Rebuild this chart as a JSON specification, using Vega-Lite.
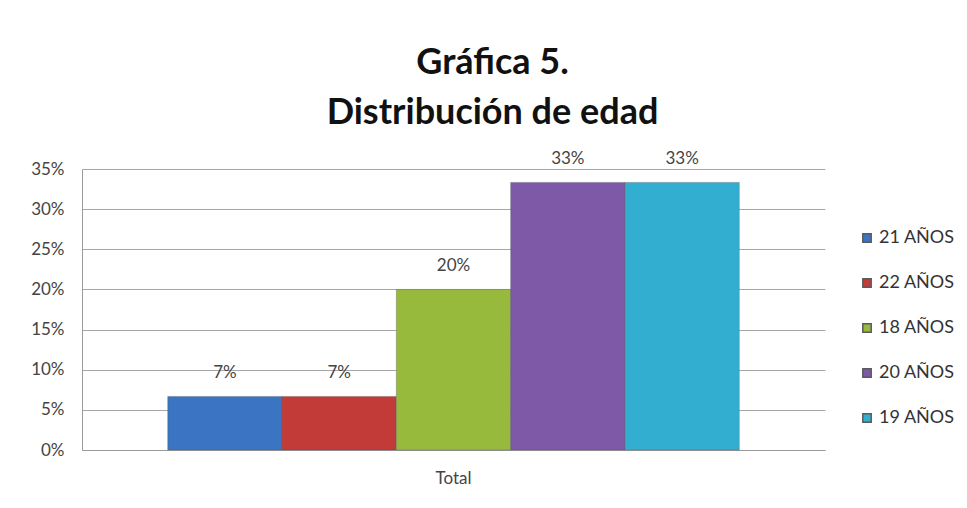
{
  "$schema": "https://vega.github.io/schema/vega-lite/v6.json",
  "width": 743,
  "height": 281,
  "autosize": {"type": "none"},
  "padding": {"left": 82, "top": 169, "right": 142, "bottom": 58},
  "background": "white",
  "title": {
    "text": ["Gráfica 5.", "Distribución de edad"],
    "fontSize": 36,
    "fontWeight": "bold",
    "font": "Lato",
    "lineHeight": 50,
    "color": "#111111",
    "anchor": "middle",
    "dx": 39,
    "offset": 18
  },
  "data": {
    "values": [
      {"grupo": "Total", "edad": "21 AÑOS", "porcentaje": 0.0667},
      {"grupo": "Total", "edad": "22 AÑOS", "porcentaje": 0.0667},
      {"grupo": "Total", "edad": "18 AÑOS", "porcentaje": 0.2},
      {"grupo": "Total", "edad": "20 AÑOS", "porcentaje": 0.3333},
      {"grupo": "Total", "edad": "19 AÑOS", "porcentaje": 0.3333}
    ]
  },
  "encoding": {
    "x": {
      "field": "grupo",
      "type": "nominal",
      "scale": {"paddingInner": 0, "paddingOuter": 0.15},
      "axis": {
        "title": null,
        "labelAngle": 0,
        "ticks": false,
        "labelPadding": 20,
        "labelFontSize": 17,
        "labelColor": "#444444",
        "labelFont": "Lato",
        "domainColor": "#999999"
      }
    },
    "xOffset": {
      "field": "edad",
      "type": "nominal",
      "sort": ["21 AÑOS", "22 AÑOS", "18 AÑOS", "20 AÑOS", "19 AÑOS"],
      "scale": {"paddingInner": 0, "paddingOuter": 0}
    },
    "y": {
      "field": "porcentaje",
      "type": "quantitative",
      "scale": {"domain": [0, 0.35]},
      "axis": {
        "title": null,
        "format": ".0%",
        "values": [0, 0.05, 0.1, 0.15, 0.2, 0.25, 0.3, 0.35],
        "ticks": false,
        "labelPadding": 18,
        "labelFontSize": 17,
        "labelColor": "#444444",
        "labelFont": "Lato",
        "gridColor": "#a6a6a6",
        "domainColor": "#999999"
      }
    }
  },
  "layer": [
    {
      "mark": {"type": "bar", "stroke": "#5a5a5a", "strokeOpacity": 0.35, "strokeWidth": 1},
      "encoding": {
        "color": {
          "field": "edad",
          "type": "nominal",
          "sort": ["21 AÑOS", "22 AÑOS", "18 AÑOS", "20 AÑOS", "19 AÑOS"],
          "scale": {
            "domain": ["21 AÑOS", "22 AÑOS", "18 AÑOS", "20 AÑOS", "19 AÑOS"],
            "range": ["#3a74c2", "#c23b38", "#97ba3c", "#7d59a8", "#32afd0"]
          },
          "legend": {
            "title": null,
            "orient": "none",
            "legendX": 776,
            "legendY": 60,
            "symbolType": "square",
            "symbolSize": 70,
            "labelFontSize": 18,
            "labelFont": "Lato",
            "labelColor": "#333333",
            "rowPadding": 27,
            "labelOffset": 3
          }
        }
      }
    },
    {
      "mark": {"type": "text", "baseline": "middle", "dy": -23, "fontSize": 17, "font": "Lato", "color": "#444444"},
      "encoding": {
        "text": {"field": "porcentaje", "type": "quantitative", "format": ".0%"}
      }
    }
  ],
  "config": {
    "view": {"stroke": null}
  }
}
